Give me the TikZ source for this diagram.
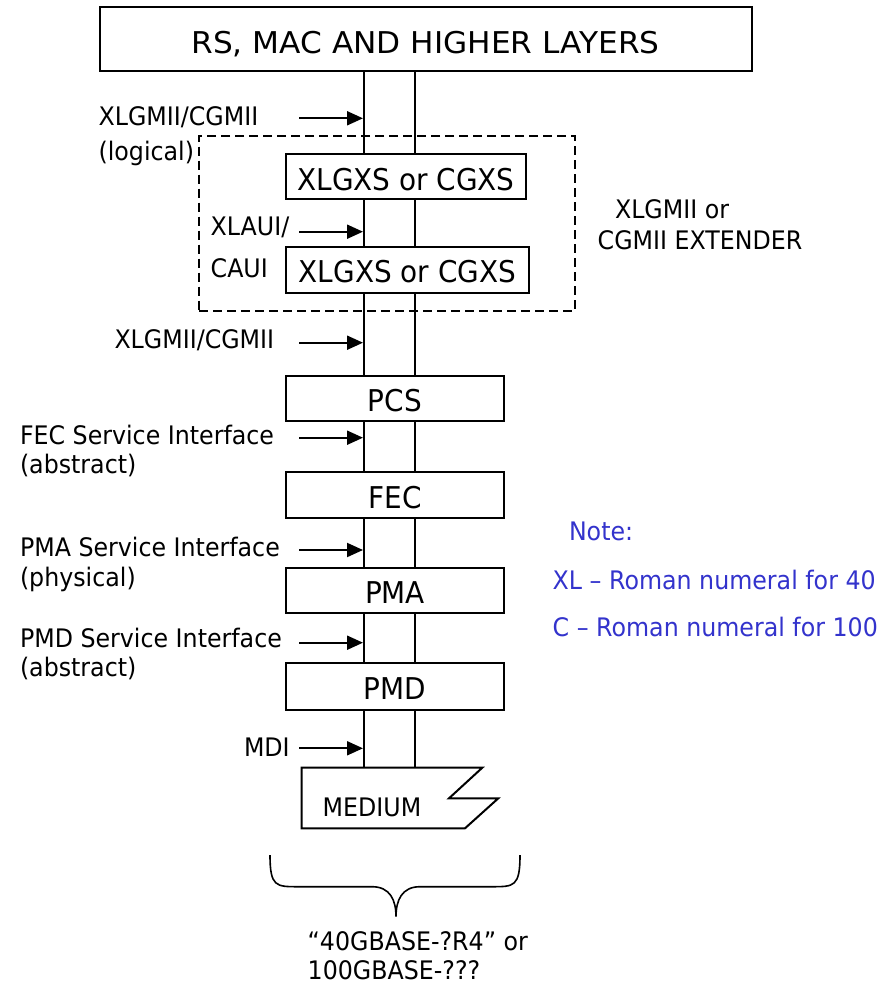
\documentclass[tikz,border=0pt]{standalone}
\usepackage{fontspec}
\setmainfont{DejaVu Sans}[FakeStretch=0.93]
\newfontfamily\anchafont{DejaVu Sans}[FakeStretch=1.04]
\usetikzlibrary{arrows.meta}
\definecolor{notaazul}{RGB}{51,51,204}

\begin{document}
\begin{tikzpicture}[x=1pt,y=-1pt,line width=2pt,
  caja/.style={draw,fill=white,inner sep=0pt,font=\fontsize{30}{36}\selectfont,text height=26.9pt,text depth=0pt},
  etiqueta/.style={anchor=west,inner sep=0pt,font=\fontsize{25.5}{30}\selectfont,text height=18.6pt,text depth=0pt},
  nota/.style={etiqueta,text=notaazul},
  flecha/.style={-{Triangle[length=16pt,width=14pt]}}]
  \useasboundingbox (0,0) rectangle (886,984);

  % Bus vertical (dos líneas)
  \coordinate (busLtop) at (364,71);
  \coordinate (busRtop) at (415,71);
  \coordinate (busL) at (364,767.7);
  \coordinate (busR) at (415,767.7);
  \draw (busLtop) -- (busL);
  \draw (busRtop) -- (busR);

  % Capa superior
  \node[caja,minimum width=652pt,minimum height=64pt,font=\anchafont\fontsize{30}{36}\selectfont,text height=28.9pt] (top) at (425.5,39) {RS, MAC AND HIGHER LAYERS};

  % Extensor (recuadro discontinuo)
  \node[draw,dash pattern=on 9pt off 5pt,inner sep=0pt,minimum width=376pt,minimum height=175pt] (ext) at (387,223.2) {};
  \node[caja,minimum width=240pt,minimum height=45pt] (xgs1) at (406,176.7) {XLGXS or CGXS};
  \node[caja,minimum width=243pt,minimum height=46pt] (xgs2) at (407.5,269.5) {XLGXS or CGXS};

  % Subcapas
  \node[caja,minimum width=218pt,minimum height=45pt] (pcs) at (395,398.5) {PCS};
  \node[caja,minimum width=218pt,minimum height=46pt] (fec) at (395,495) {FEC};
  \node[caja,minimum width=218pt,minimum height=45pt] (pma) at (395,590.5) {PMA};
  \node[caja,minimum width=218pt,minimum height=47pt] (pmd) at (395,686.5) {PMD};

  % Medio
  \draw[fill=white] (301.7,767.7) -- (482.3,767.7) -- (449,798.3) -- (498.3,798.3) -- (465,828.3) -- (301.7,828.3) -- cycle;
  \node[etiqueta] (medio) at (321.7,806.7) {MEDIUM};

  % Flechas de interfaz
  \foreach \n/\y in {f1/118.3, f2/231.7, f3/342.7, f4/437.7, f5/550, f6/642.7, f7/748.3} {
    \coordinate (\n) at (299,\y);
    \draw[flecha] (\n) -- ([xshift=-1pt]\n -| busL);
  }

  % Etiquetas de interfaz
  \node[etiqueta] (l1a) at (97.6,116.7) {XLGMII/CGMII};
  \node[etiqueta] (l1b) at (97.6,151) {(logical)};
  \node[etiqueta] (l2a) at (209.7,226.7) {XLAUI/};
  \node[etiqueta] (l2b) at (209.7,268.3) {CAUI};
  \node[etiqueta] (l3) at (113.5,339) {XLGMII/CGMII};
  \node[etiqueta] (l4a) at (19,435) {FEC Service Interface};
  \node[etiqueta] (l4b) at (19,464) {(abstract)};
  \node[etiqueta] (l5a) at (19,546.7) {PMA Service Interface};
  \node[etiqueta] (l5b) at (19,577.5) {(physical)};
  \node[etiqueta] (l6a) at (19,638.3) {PMD Service Interface};
  \node[etiqueta] (l6b) at (19,667.5) {(abstract)};
  \node[etiqueta] (l7) at (243,746.7) {MDI};
  \node[etiqueta] (ext1) at (614,209) {XLGMII or};
  \node[etiqueta] (ext2) at (596.7,240.5) {CGMII EXTENDER};

  % Nota
  \node[nota] (n0) at (568,531.5) {Note:};
  \node[nota] (n1) at (551.7,580) {XL – Roman numeral for 40};
  \node[nota] (n2) at (551.7,627.5) {C – Roman numeral for 100};

  % Llave inferior
  \draw[line width=1.6pt] (270,855) .. controls (270,886.7) and (276,886.7) .. (298,886.7) -- (372,886.7)
    .. controls (390,886.7) and (396,900) .. (396,916.7)
    .. controls (396,900) and (402,886.7) .. (420,886.7) -- (492,886.7)
    .. controls (514,886.7) and (520,886.7) .. (520,855);
  \node[etiqueta] (b1) at (306.7,941) {“40GBASE-?R4” or};
  \node[etiqueta] (b2) at (306.7,970) {100GBASE-???};
\end{tikzpicture}
\end{document}
